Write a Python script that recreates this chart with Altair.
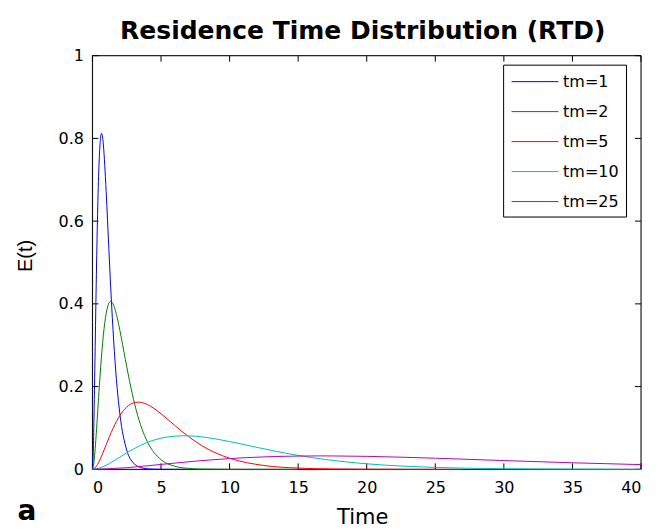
import altair as alt
import pandas as pd

chart_title = "Residence Time Distribution (RTD)"
series_names = ["tm=1", "tm=2", "tm=5", "tm=10", "tm=25"]
series_colors = ["#0000FF", "#008000", "#FF0000", "#00BFBF", "#BF00BF"]

t_tm1 = [0, 0.05, 0.1, 0.15, 0.2, 0.25, 0.3, 0.35, 0.4, 0.45, 0.5, 0.55, 0.6, 0.667, 0.7, 0.8, 0.9, 1.0,
         1.2, 1.4, 1.6, 1.8, 2.0, 2.5, 3.0, 3.5, 4.0, 5.0, 6.7]
e_tm1 = [0, 0.0290, 0.1000, 0.1937, 0.2964, 0.3986, 0.4940, 0.5787, 0.6506, 0.7086, 0.7530, 0.7841, 0.8033,
         0.8120, 0.8103, 0.7838, 0.7349, 0.6721, 0.5311, 0.3969, 0.2844, 0.1976, 0.1339, 0.0467, 0.0150,
         0.0046, 0.0013, 0.0001, 0]

t_tm2 = [0, 0.1, 0.2, 0.3, 0.4, 0.5, 0.6, 0.7, 0.8, 0.9, 1.0, 1.1, 1.2, 1.33, 1.4, 1.6, 1.8, 2.0, 2.4, 2.8,
         3.2, 3.6, 4.0, 5.0, 6.0, 7.0, 8.0, 10, 15]
e_tm2 = [0, 0.0145, 0.0500, 0.0969, 0.1482, 0.1993, 0.2470, 0.2894, 0.3253, 0.3543, 0.3765, 0.3921, 0.4017,
         0.4060, 0.4052, 0.3919, 0.3675, 0.3361, 0.2656, 0.1985, 0.1422, 0.0988, 0.0670, 0.0234, 0.0075,
         0.0023, 0.0007, 0.00005, 0]

t_tm5 = [0, 0.25, 0.5, 0.75, 1, 1.25, 1.5, 1.75, 2, 2.25, 2.5, 2.75, 3, 3.33, 3.5, 4, 4.5, 5, 6, 7, 8, 9, 10,
         12.5, 15, 17.5, 20, 25, 27]
e_tm5 = [0, 0.0058, 0.0200, 0.0387, 0.0593, 0.0797, 0.0988, 0.1157, 0.1301, 0.1417, 0.1506, 0.1568, 0.1607,
         0.1624, 0.1621, 0.1568, 0.1470, 0.1344, 0.1062, 0.0794, 0.0569, 0.0395, 0.0268, 0.0093, 0.0030,
         0.0009, 0.0003, 0.0000, 0]

t_tm10 = [0, 0.5, 1, 1.5, 2, 2.5, 3, 3.5, 4, 4.5, 5, 5.5, 6, 6.67, 7, 8, 9, 10, 12, 14, 16, 18, 20, 25, 30,
          35, 40]
e_tm10 = [0, 0.0029, 0.0100, 0.0194, 0.0296, 0.0399, 0.0494, 0.0579, 0.0651, 0.0709, 0.0753, 0.0784, 0.0803,
          0.0812, 0.0810, 0.0784, 0.0735, 0.0672, 0.0531, 0.0397, 0.0284, 0.0198, 0.0134, 0.0047, 0.0015,
          0.0005, 0.0001]

t_tm25 = [0, 2.5, 5, 7.5, 10, 12.5, 15, 16.67, 17.5, 20, 22.5, 25, 30, 35, 40]
e_tm25 = [0, 0.0040, 0.0119, 0.0198, 0.0260, 0.0301, 0.0321, 0.0325, 0.0324, 0.0314, 0.0294, 0.0269, 0.0212,
          0.0159, 0.0114]

x_ticks = [0, 5, 10, 15, 20, 25, 30, 35, 40]
y_ticks = [0, 0.2, 0.4, 0.6, 0.8, 1.0]

frames = []
for name, ts, es in zip(series_names,
                        [t_tm1, t_tm2, t_tm5, t_tm10, t_tm25],
                        [e_tm1, e_tm2, e_tm5, e_tm10, e_tm25]):
    frames.append(pd.DataFrame({"t": ts, "E": es, "series": name}))
df = pd.concat(frames, ignore_index=True)

W, H = 549, 414
TL = 6

xscale = alt.Scale(domain=[0, 40], nice=False, zero=False)
yscale = alt.Scale(domain=[0, 1], nice=False)

lines = alt.Chart(df).mark_line(strokeWidth=1, interpolate="monotone").encode(
    x=alt.X("t:Q", scale=xscale,
            axis=alt.Axis(values=x_ticks, title="Time", titleFont="DejaVu Sans", titleFontSize=21,
                          titleFontWeight="normal", titleColor="black", titleX=270, titleY=54,
                          titleBaseline="alphabetic", titleAlign="center",
                          labelFont="DejaVu Sans", labelFontSize=16, labelColor="black",
                          labelPadding=10, ticks=False, domain=False, grid=False)),
    y=alt.Y("E:Q", scale=yscale,
            axis=alt.Axis(values=y_ticks, format="~g", title="E(t)", titleFont="Liberation Sans",
                          titleFontSize=20, titleFontWeight="normal", titleColor="black",
                          titleX=-61, titleY=200, titleBaseline="alphabetic", titleAlign="center",
                          titleAngle=270,
                          labelFont="DejaVu Sans", labelFontSize=16, labelColor="black",
                          labelPadding=9, ticks=False, domain=False, grid=False)),
    color=alt.Color("series:N", sort=series_names,
                    scale=alt.Scale(domain=series_names, range=series_colors),
                    legend=alt.Legend(title=None, orient="none", legendX=411, legendY=9,
                                      direction="vertical",
                                      symbolType="M-0.91,0H4.09", symbolSize=353, symbolStrokeWidth=1,
                                      labelFont="DejaVu Sans", labelFontSize=16, labelColor="black",
                                      labelOffset=33, rowPadding=12, padding=7,
                                      strokeColor="black", fillColor="white")),
)

xt_df = pd.DataFrame({"v": x_ticks})
yt_df = pd.DataFrame({"v": y_ticks})

xt_bottom = alt.Chart(xt_df).mark_rule(color="black", strokeWidth=1).encode(
    x=alt.X("v:Q", scale=xscale), y=alt.value(H), y2=alt.value(H - TL))
xt_top = alt.Chart(xt_df).mark_rule(color="black", strokeWidth=1).encode(
    x=alt.X("v:Q", scale=xscale), y=alt.value(0), y2=alt.value(TL))
yt_left = alt.Chart(yt_df).mark_rule(color="black", strokeWidth=1).encode(
    y=alt.Y("v:Q", scale=yscale), x=alt.value(0), x2=alt.value(TL))
yt_right = alt.Chart(yt_df).mark_rule(color="black", strokeWidth=1).encode(
    y=alt.Y("v:Q", scale=yscale), x=alt.value(W), x2=alt.value(W - TL))

frame_box = alt.Chart(pd.DataFrame({"k": [0]})).mark_rect(
    filled=False, stroke="black", strokeWidth=1).encode(
    x=alt.value(0), x2=alt.value(W), y=alt.value(0), y2=alt.value(H))

panel_label = alt.Chart(pd.DataFrame({"lab": ["a"]})).mark_text(
    font="DejaVu Sans", fontSize=28, fontWeight="bold", color="black", align="left",
    baseline="alphabetic").encode(text="lab:N", x=alt.value(-75), y=alt.value(465))

title_text = alt.Chart(pd.DataFrame({"lab": [chart_title]})).mark_text(
    font="DejaVu Sans", fontSize=25, fontWeight="bold", color="black", align="center",
    baseline="alphabetic").encode(text="lab:N", x=alt.value(W / 2 - 4), y=alt.value(-17))

chart = alt.layer(frame_box, xt_bottom, xt_top, yt_left, yt_right, lines, panel_label,
                  title_text).properties(
    width=W, height=H,
    padding={"left": 84.5, "top": 47.5, "right": 13, "bottom": 62},
    autosize=alt.AutoSizeParams(type="none"),
).configure_view(strokeWidth=0).configure(background="white")

chart.save("out.html", embed_options={"renderer": "svg", "actions": False})
